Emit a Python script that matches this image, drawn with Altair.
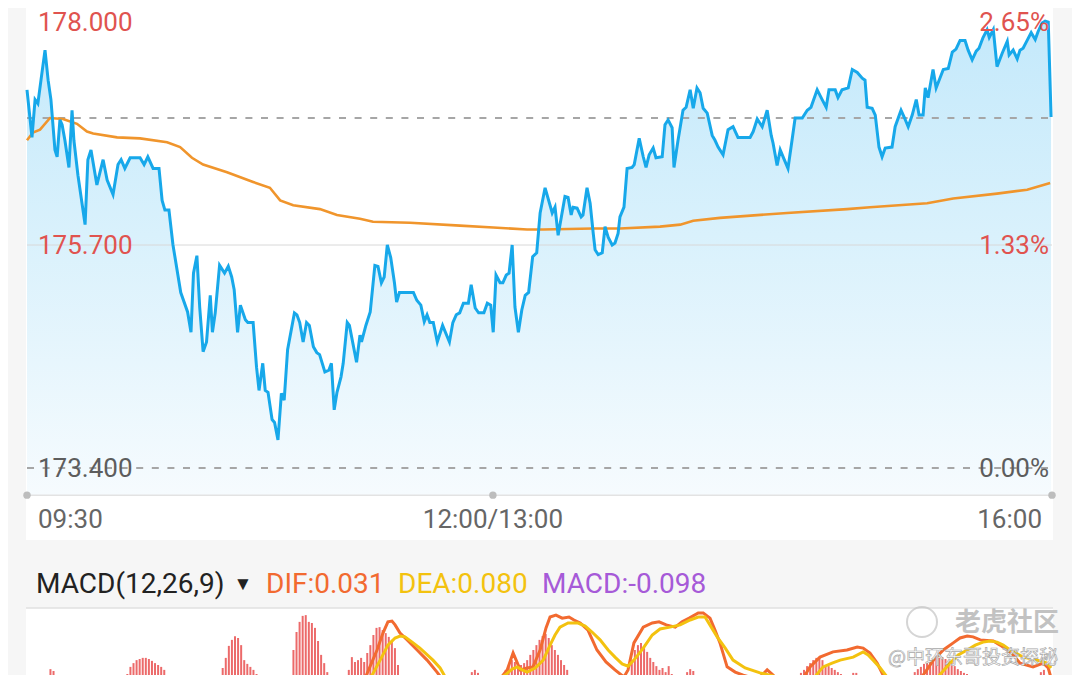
import altair as alt
import pandas as pd

# ---------------- data ----------------
# trading clock: minutes since 09:30 (lunch break removed), 330 minutes total
SESSION_MINUTES = 330
price_minute = [0, 1.6, 2.6, 3.5, 4.5, 5.8, 6.8, 7.7, 9.0, 9.7, 10.6, 11.3, 12.2, 13.5, 14.5, 15.1, 16.4, 18.7, 19.6, 20.6,
                22.5, 24.5, 25.8, 27.7, 29.3, 30.3, 31.5, 33.2, 36.4, 37.7, 38.9, 40.6, 42.5, 43.5, 44.4, 45.7, 47.0, 49.5,
                51.7, 52.8, 53.6, 54.7, 55.6, 56.7, 57.8, 59.0, 59.7, 60.6, 62.0, 63.6, 64.8, 65.9, 66.7, 67.8, 68.7, 70.3,
                71.1, 72.8, 73.9, 74.7, 75.9, 76.7, 77.6, 78.9, 79.7, 80.8, 81.9, 82.8, 83.9, 86.1, 86.9, 87.8, 88.9, 90.0,
                90.9, 92.2, 93.3, 94.2, 95.9, 97.2, 98.0, 98.9, 99.8, 101.1, 101.8, 103.1, 103.8, 106.1, 107.2, 107.7, 109.1,
                110.5, 112.0, 113.0, 114.1, 115.0, 116.0, 117.1, 118.3, 119.0, 119.9, 124.4, 125.5, 126.8, 127.9, 128.8,
                129.7, 130.8, 132.1, 133.8, 136.0, 137.1, 138.2, 139.3, 140.5, 142.1, 143.0, 144.3, 145.4, 147.1, 148.2,
                149.3, 150.1, 151.0, 152.3, 153.2, 154.3, 155.2, 156.2, 157.1, 158.2, 159.3, 160.4, 161.5, 162.8, 164.1,
                165.2, 166.8, 169.1, 170.0, 171.0, 173.2, 174.2, 175.2, 175.8, 177.1, 178.4, 179.0, 180.3, 181.3, 182.3,
                182.9, 183.9, 185.2, 186.1, 187.1, 188.4, 189.3, 190.3, 190.9, 192.2, 193.2, 194.8, 195.5, 197.1, 198.4,
                199.3, 200.3, 201.6, 202.5, 204.5, 205.4, 206.4, 207.7, 208.3, 209.6, 211.2, 212.2, 213.5, 214.5, 215.7,
                216.7, 217.7, 219.0, 220.6, 221.5, 222.5, 224.1, 225.7, 227.3, 228.9, 232.8, 233.8, 235.1, 236.7, 238.3,
                239.6, 240.2, 241.5, 242.5, 243.8, 245.0, 246.3, 247.3, 249.6, 251.2, 252.4, 254.4, 256.0, 257.3, 258.2,
                260.2, 261.1, 262.4, 264.4, 265.7, 267.3, 268.9, 269.8, 270.5, 272.1, 273.1, 274.3, 275.3, 276.3, 278.5,
                279.5, 281.4, 282.4, 283.7, 285.0, 286.3, 287.2, 288.5, 289.2, 290.1, 291.7, 292.7, 295.0, 296.6, 297.9,
                299.1, 300.4, 302.0, 303.0, 304.3, 305.6, 306.5, 307.8, 309.1, 309.8, 311.1, 312.3, 314.0, 315.6, 316.2,
                317.5, 318.8, 319.7, 320.7, 322.0, 323.3, 324.6, 325.5, 326.8, 327.8, 328.8, 329.7]
price_value = [177.30, 176.81, 177.20, 177.16, 177.40, 177.71, 177.40, 177.20, 176.68, 176.61, 176.99, 176.94, 176.78,
               176.50, 177.09, 176.78, 176.42, 175.91, 176.58, 176.68, 176.32, 176.58, 176.37, 176.22, 176.53, 176.58,
               176.49, 176.60, 176.60, 176.53, 176.61, 176.49, 176.49, 176.16, 176.06, 176.06, 175.70, 175.21, 175.01,
               174.80, 175.41, 175.59, 175.06, 174.60, 174.70, 175.18, 174.80, 175.00, 175.49, 175.41, 175.48, 175.37,
               175.24, 174.80, 175.08, 174.93, 174.90, 174.90, 174.44, 174.20, 174.48, 174.20, 174.18, 173.90, 173.87,
               173.69, 174.17, 174.10, 174.62, 175.00, 174.98, 174.90, 174.70, 174.90, 174.87, 174.65, 174.59, 174.57,
               174.39, 174.41, 174.48, 174.00, 174.18, 174.34, 174.48, 174.90, 174.87, 174.49, 174.77, 174.70, 174.87,
               175.01, 175.49, 175.48, 175.31, 175.37, 175.70, 175.57, 175.31, 175.11, 175.21, 175.21, 175.13, 175.08,
               174.91, 174.98, 174.90, 174.90, 174.70, 174.87, 174.70, 174.90, 174.98, 175.00, 175.10, 175.10, 175.29,
               175.05, 175.00, 175.00, 175.10, 175.08, 174.80, 175.39, 175.31, 175.31, 175.39, 175.41, 175.70, 175.06,
               174.80, 175.03, 175.18, 175.21, 175.58, 175.62, 176.03, 176.29, 176.03, 176.09, 175.80, 176.20, 176.19,
               176.01, 176.09, 176.08, 175.99, 176.01, 176.29, 176.13, 175.82, 175.65, 175.60, 175.62, 175.89, 175.78,
               175.70, 175.72, 175.82, 175.99, 176.09, 176.49, 176.50, 176.53, 176.80, 176.61, 176.50, 176.63, 176.70,
               176.60, 176.61, 176.94, 176.99, 176.91, 176.50, 176.78, 177.09, 177.12, 177.30, 177.11, 177.32, 177.27,
               177.11, 177.06, 176.83, 176.78, 176.71, 176.63, 176.89, 176.92, 176.81, 176.81, 176.87, 177.00, 176.92,
               177.09, 176.83, 176.75, 176.52, 176.68, 176.58, 176.49, 176.78, 177.01, 177.01, 177.09, 177.12, 177.30,
               177.20, 177.12, 177.30, 177.30, 177.22, 177.30, 177.32, 177.51, 177.48, 177.42, 177.40, 177.12, 177.11,
               177.04, 176.71, 176.61, 176.70, 176.71, 176.92, 177.09, 177.02, 176.92, 177.04, 177.20, 177.04, 177.04,
               177.32, 177.22, 177.51, 177.32, 177.51, 177.52, 177.69, 177.72, 177.81, 177.81, 177.71, 177.61, 177.70,
               177.73, 177.84, 177.92, 177.84, 177.92, 177.54, 177.68, 177.80, 177.66, 177.71, 177.62, 177.71, 177.73,
               177.81, 177.89, 177.82, 177.90, 177.99, 178.01, 178.00, 177.02]

avg_minute = [0, 1.9, 4.2, 7.4, 11.6, 16.1, 19.3, 21.3, 29.0, 36.4, 45.1, 49.3, 53.1, 56.7, 64.4, 72.8, 78.2, 81.5, 85.7,
              94.3, 99.8, 107.2, 111.4, 123.3, 139.4, 150.1, 161.0, 166.2, 182.3, 190.9, 203.8, 210.3, 214.5, 223.1,
              244.7, 264.0, 271.4, 289.8, 298.2, 312.3, 322.0, 329.4]
avg_value = [176.78, 176.86, 176.89, 177.01, 177.00, 176.95, 176.87, 176.85, 176.81, 176.80, 176.76, 176.71, 176.60,
             176.53, 176.45, 176.35, 176.29, 176.16, 176.11, 176.07, 176.01, 175.97, 175.94, 175.93, 175.90, 175.88,
             175.86, 175.86, 175.87, 175.87, 175.89, 175.91, 175.95, 175.98, 176.03, 176.07, 176.09, 176.13, 176.18,
             176.23, 176.27, 176.34]

# MACD panel (only the upper part of the panel is visible)
bar_minute = [6, 7, 8, 26,
              30, 31, 32, 33, 34, 35, 36, 37, 38, 39, 40, 41, 42, 43, 44,
              62, 63, 64, 65, 66, 67, 68, 69, 70, 71, 72, 73, 74,
              84, 85, 86, 87, 88, 89, 90, 91, 92, 93, 94, 95, 96, 97,
              103, 104, 105, 106, 107, 108, 109, 110, 111, 112, 113, 114, 115, 116, 117, 118, 119, 120,
              141, 142, 143, 144, 145, 146, 147, 148, 149,
              153, 154, 155, 156, 157, 158, 159, 160, 161, 162, 163, 164, 165, 166, 167, 168, 169, 170, 171, 172, 173,
              174, 175, 176,
              194, 195, 196, 197, 198, 199, 200, 201, 202, 203, 204, 205, 206, 207, 208, 209,
              212, 213, 214, 215, 216, 217, 218, 240,
              249, 250, 251, 252, 253, 254, 255, 256, 257, 258, 259, 260, 261, 262, 263, 264, 265, 266, 267, 268, 269,
              270, 271,
              285, 286, 287, 288, 289, 290, 291, 292, 293, 294, 295, 296, 297, 298, 299, 300, 301, 302, 303, 304, 305,
              306, 307, 308, 309, 310, 327, 328, 329]
bar_value = [0.237, 0.232, 0.216, 0.205,
             0.208, 0.224, 0.243, 0.253, 0.261, 0.264, 0.267, 0.267, 0.264, 0.259, 0.253, 0.248, 0.243, 0.235, 0.221,
             0.240, 0.267, 0.299, 0.315, 0.325, 0.320, 0.301, 0.261, 0.251, 0.243, 0.235, 0.224, 0.213,
             0.203, 0.288, 0.336, 0.363, 0.379, 0.381, 0.363, 0.360, 0.347, 0.312, 0.275, 0.253, 0.229, 0.208,
             0.235, 0.269, 0.256, 0.261, 0.267, 0.256, 0.280, 0.301, 0.328, 0.347, 0.349, 0.341, 0.333, 0.323, 0.315,
             0.293, 0.248, 0.221,
             0.208, 0.219, 0.229, 0.235, 0.227, 0.219, 0.213, 0.211, 0.205,
             0.219, 0.235, 0.245, 0.261, 0.256, 0.240, 0.248, 0.253, 0.261, 0.275, 0.288, 0.301, 0.315, 0.325, 0.331,
             0.320, 0.301, 0.288, 0.275, 0.261, 0.248, 0.235, 0.221, 0.211,
             0.221, 0.261, 0.288, 0.301, 0.307, 0.293, 0.283, 0.267, 0.256, 0.245, 0.235, 0.240, 0.229, 0.245, 0.224,
             0.211,
             0.219, 0.229, 0.237, 0.232, 0.219, 0.208, 0.216, 0.213,
             0.213, 0.227, 0.235, 0.245, 0.253, 0.261, 0.267, 0.269, 0.261, 0.243, 0.245, 0.240, 0.235, 0.229, 0.224,
             0.221, 0.221, 0.221, 0.227, 0.227, 0.216, 0.213, 0.208,
             0.208, 0.221, 0.229, 0.237, 0.243, 0.251, 0.256, 0.261, 0.264, 0.267, 0.267, 0.269, 0.264, 0.259, 0.253,
             0.245, 0.237, 0.232, 0.227, 0.224, 0.219, 0.216, 0.213, 0.211, 0.208, 0.208, 0.213, 0.229, 0.235]

dif_minute = [5.5, 6.4, 7.4, 8.4, 9.5,
              107.0, 108.2, 110.4, 112.7, 114.6, 116.2, 117.5, 118.5, 120.1, 122.4, 125.6, 128.8, 132.0, 133.9, 135.2,
              136.5,
              145.5, 146.8, 149.1, 152.3, 154.6, 156.5, 158.8, 161.0, 162.9, 165.2, 167.1, 168.4, 170.3, 172.3, 174.5,
              176.1, 178.1, 180.6, 183.5, 186.4, 189.3, 192.2, 193.5, 195.4, 198.4, 201.3, 203.5, 205.8, 208.7, 210.9,
              213.2, 216.1, 217.7, 219.9, 221.5, 223.1, 225.4, 228.0, 230.6, 233.8, 236.0, 238.3, 240.2, 242.5, 244.0,
              248.0, 248.9, 252.1, 255.3, 259.5, 264.0, 267.3, 269.2, 271.4, 273.7, 276.9, 278.0,
              285.5, 286.6, 289.2, 291.8, 295.0, 298.2, 300.4, 302.7, 304.6, 306.9, 311.1, 313.3, 315.6, 317.5, 319.7,
              323.9, 327.2, 328.8, 329.7]
dif_value = [0.19, 0.208, 0.216, 0.208, 0.19,
             0.19, 0.200, 0.243, 0.288, 0.333, 0.363, 0.365, 0.355, 0.333, 0.315, 0.288, 0.261, 0.229, 0.208, 0.200,
             0.19,
             0.19, 0.208, 0.211, 0.211, 0.235, 0.280, 0.235, 0.240, 0.243, 0.288, 0.347, 0.376, 0.381, 0.373, 0.376,
             0.368, 0.360, 0.341, 0.288, 0.256, 0.235, 0.216, 0.235, 0.307, 0.349, 0.360, 0.363, 0.355, 0.349, 0.363,
             0.373, 0.387, 0.387, 0.373, 0.341, 0.307, 0.243, 0.229, 0.221, 0.213, 0.216, 0.235, 0.221, 0.200, 0.19,
             0.19, 0.200, 0.243, 0.269, 0.283, 0.288, 0.296, 0.293, 0.280, 0.253, 0.200, 0.19,
             0.19, 0.200, 0.229, 0.261, 0.288, 0.307, 0.320, 0.325, 0.323, 0.315, 0.312, 0.301, 0.288, 0.275, 0.253,
             0.243, 0.253, 0.240, 0.213]

dea_minute = [108.0, 108.8, 111.1, 113.7, 116.2, 118.5, 120.1, 121.7, 124.0, 126.5, 130.7, 133.0, 135.2, 136.2, 137.0,
              149.0, 150.1, 153.9, 156.2, 157.8, 159.4, 161.0, 163.6, 166.2, 168.4, 170.0, 171.6, 174.2, 177.4, 179.7,
              181.9, 184.5, 187.1, 189.3, 191.6, 193.5, 195.4, 198.4, 201.3, 203.8, 207.0, 210.3, 213.5, 216.1, 218.3,
              222.2, 224.8, 227.3, 231.2, 236.0, 241.5, 244.7, 246.0,
              251.0, 252.1, 254.1, 256.3, 259.2, 261.8, 266.0, 269.2, 270.8, 272.4, 274.7, 276.9, 278.5, 280.0,
              290.5, 291.7, 294.6, 297.2, 299.8, 302.7, 305.3, 307.8, 310.1, 312.3, 314.3, 316.5, 320.7, 325.2, 328.4,
              329.7]
dea_value = [0.19, 0.200, 0.221, 0.261, 0.301, 0.320, 0.325, 0.323, 0.309, 0.293, 0.261, 0.240, 0.208, 0.200, 0.19,
             0.19, 0.203, 0.221, 0.237, 0.243, 0.235, 0.229, 0.240, 0.261, 0.301, 0.328, 0.349, 0.360, 0.360, 0.352,
             0.336, 0.315, 0.288, 0.269, 0.251, 0.245, 0.261, 0.293, 0.328, 0.344, 0.349, 0.355, 0.368, 0.376, 0.376,
             0.323, 0.293, 0.261, 0.240, 0.227, 0.216, 0.200, 0.19,
             0.19, 0.200, 0.221, 0.243, 0.253, 0.261, 0.269, 0.283, 0.275, 0.261, 0.240, 0.216, 0.200, 0.19,
             0.19, 0.200, 0.229, 0.253, 0.275, 0.288, 0.301, 0.309, 0.312, 0.309, 0.301, 0.288, 0.269, 0.261, 0.253,
             0.240]

tick_prices = [178.0, 175.7, 173.4]
left_tick_labels = ["178.000", "175.700", "173.400"]
right_tick_labels = ["2.65%", "1.33%", "0.00%"]
ref_line_price = 177.01
axis_floor_price = 173.12
time_minutes = [0, 150, 330]
time_labels = ["09:30", "12:00/13:00", "16:00"]

header_title = "MACD(12,26,9)"
dif_label = "DIF:0.031"
dea_label = "DEA:0.080"
macd_label = "MACD:-0.098"
watermark_1 = "老虎社区"
watermark_2 = "@中环东哥投资探秘"

# ---------------- styling ----------------
W, H = 1064, 667
FONT = "Roboto"
CJK = "Noto Sans CJK SC"
RED = "#e0534f"
GRAY_TXT = "#5d5d5d"
BLUE = "#17a8ea"
ORANGE = "#f0952c"
DIF_C = "#f26a30"
DEA_C = "#f3c20f"
MACD_C = "#a65ad8"
BAR_C = "#ec6a6a"

x_sc = alt.Scale(domain=[0, SESSION_MINUTES], range=[19, 1044], nice=False, zero=False)
y_sc = alt.Scale(domain=[tick_prices[-1], tick_prices[0]], range=[460, 14], nice=False, zero=False)
m_sc = alt.Scale(domain=[0.2, 0.4], range=[675, 600], nice=False, zero=False)

one = pd.DataFrame({"k": [0]})
price_df = pd.DataFrame({"minute": price_minute, "price": price_value})
avg_df = pd.DataFrame({"minute": avg_minute, "price": avg_value})
bar_df = pd.DataFrame({"minute": bar_minute, "v": bar_value})
dif_df = pd.DataFrame({"minute": dif_minute, "v": dif_value})
dea_df = pd.DataFrame({"minute": dea_minute, "v": dea_value})
tick_df = pd.DataFrame({"price": tick_prices, "left": left_tick_labels, "right": right_tick_labels})

X = lambda f: alt.X(f, scale=x_sc, axis=None)
Y = lambda f: alt.Y(f, scale=y_sc, axis=None)
M = lambda f: alt.Y(f, scale=m_sc, axis=None)

layers = []

# white panels over grey page
layers.append(alt.Chart(one).mark_rect(color="#ffffff").encode(
    x=alt.value(18), x2=alt.value(1045), y=alt.value(0), y2=alt.value(532)))
layers.append(alt.Chart(one).mark_rect(color="#ffffff").encode(
    x=alt.value(18), x2=alt.value(1045), y=alt.value(600), y2=alt.value(H)))
layers.append(alt.Chart(one).mark_rule(color="#e0e0e0", strokeWidth=1.5).encode(
    x=alt.value(18), x2=alt.value(1045), y=alt.value(600)))

# price area with gradient
grad = alt.Gradient(gradient="linear", x1=1, x2=1, y1=0, y2=1,
                    stops=[alt.GradientStop(color="#c4e9fb", offset=0),
                           alt.GradientStop(color="#d9f1fc", offset=0.45),
                           alt.GradientStop(color="#f6fbfe", offset=1)])
layers.append(alt.Chart(price_df).mark_area(color=grad).encode(
    x=X("minute:Q"), y=Y("price:Q"), y2=alt.Y2Datum(axis_floor_price)))

# grid: solid mid line, dashed lines
layers.append(alt.Chart(pd.DataFrame({"price": [tick_prices[1]]})).mark_rule(color="#d8d8d8", strokeWidth=1).encode(
    y=Y("price:Q"), x=alt.XDatum(0, scale=x_sc, axis=None), x2=alt.X2Datum(SESSION_MINUTES)))
layers.append(alt.Chart(pd.DataFrame({"price": [ref_line_price, tick_prices[2]]})).mark_rule(
    color="#a6a6a6", strokeWidth=2, strokeDash=[7, 8.6]).encode(
    y=Y("price:Q"), x=alt.XDatum(0, scale=x_sc, axis=None), x2=alt.X2Datum(SESSION_MINUTES)))
# bottom axis line + dots
layers.append(alt.Chart(pd.DataFrame({"price": [axis_floor_price]})).mark_rule(color="#e3e3e3", strokeWidth=1.5).encode(
    y=Y("price:Q"), x=alt.XDatum(0, scale=x_sc, axis=None), x2=alt.X2Datum(SESSION_MINUTES)))
layers.append(alt.Chart(pd.DataFrame({"minute": time_minutes})).mark_circle(color="#bdbdbd", size=55, opacity=1).encode(
    x=X("minute:Q"), y=alt.YDatum(axis_floor_price, scale=y_sc, axis=None)))

# average price and price lines
layers.append(alt.Chart(avg_df).mark_line(color=ORANGE, strokeWidth=2.6).encode(x=X("minute:Q"), y=Y("price:Q")))
layers.append(alt.Chart(price_df).mark_line(color=BLUE, strokeWidth=3).encode(x=X("minute:Q"), y=Y("price:Q")))

# price tick labels
cond = f"datum.price > {tick_prices[-1]}"
layers.append(alt.Chart(tick_df).mark_text(align="left", baseline="middle", dx=11, dy=1, font=FONT, fontSize=26).encode(
    x=alt.XDatum(0, scale=x_sc, axis=None), y=Y("price:Q"), text="left:N",
    color=alt.condition(cond, alt.value(RED), alt.value(GRAY_TXT))))
layers.append(alt.Chart(tick_df).mark_text(align="right", baseline="middle", dx=-3, dy=1, font=FONT, fontSize=26).encode(
    x=alt.XDatum(SESSION_MINUTES, scale=x_sc, axis=None), y=Y("price:Q"), text="right:N",
    color=alt.condition(cond, alt.value(RED), alt.value(GRAY_TXT))))

# time labels
for mm, lab, al, dx in zip(time_minutes, time_labels, ["left", "center", "right"], [11, 0, -10]):
    layers.append(alt.Chart(pd.DataFrame({"minute": [mm], "lab": [lab]})).mark_text(
        align=al, baseline="middle", dx=dx, font=FONT, fontSize=26, color="#666666").encode(
        x=X("minute:Q"), y=alt.value(512), text="lab:N"))

# MACD panel
layers.append(alt.Chart(bar_df).mark_bar(color=BAR_C, width=2, clip=True).encode(
    x=X("minute:Q"), y=M("v:Q"), y2=alt.Y2Datum(0)))
layers.append(alt.Chart(dif_df).mark_line(color=DIF_C, strokeWidth=3, clip=True).encode(x=X("minute:Q"), y=M("v:Q")))
layers.append(alt.Chart(dea_df).mark_line(color=DEA_C, strokeWidth=3, clip=True).encode(x=X("minute:Q"), y=M("v:Q")))

# header texts
def txt(text, x, y, color, size=26, align="left", font=FONT, **kw):
    return alt.Chart(one).mark_text(text=text, align=align, baseline="middle", font=font, fontSize=size,
                                    color=color, **kw).encode(x=alt.value(x), y=alt.value(y))

layers.append(txt(header_title, 28, 577, "#222222", 28))
layers.append(txt("▼", 235, 576, "#222222", 19, align="center"))
layers.append(txt(dif_label, 258, 577, DIF_C, 28))
layers.append(txt(dea_label, 390, 577, DEA_C, 28))
layers.append(txt(macd_label, 534, 577, MACD_C, 28))

# watermark
layers.append(alt.Chart(one).mark_point(shape="circle", filled=False, color="#c4c4c4", size=900, strokeWidth=2).encode(
    x=alt.value(914), y=alt.value(614)))
layers.append(txt(watermark_1, 947, 615, "#c2c2c2", 26, font=CJK, fontWeight="bold"))
layers.append(txt(watermark_2, 1050, 650, "#ffffff", 19, align="right", font=CJK, stroke="#a8a8a8", strokeWidth=0.7))

chart = alt.layer(*layers).resolve_scale(x="independent", y="independent").properties(
    width=W, height=H, padding=0, background="#f6f6f6",
    autosize=alt.AutoSizeParams(type="none"),
).configure_view(strokeWidth=0)

chart.save("out.html", embed_options={"renderer": "svg", "actions": False})
